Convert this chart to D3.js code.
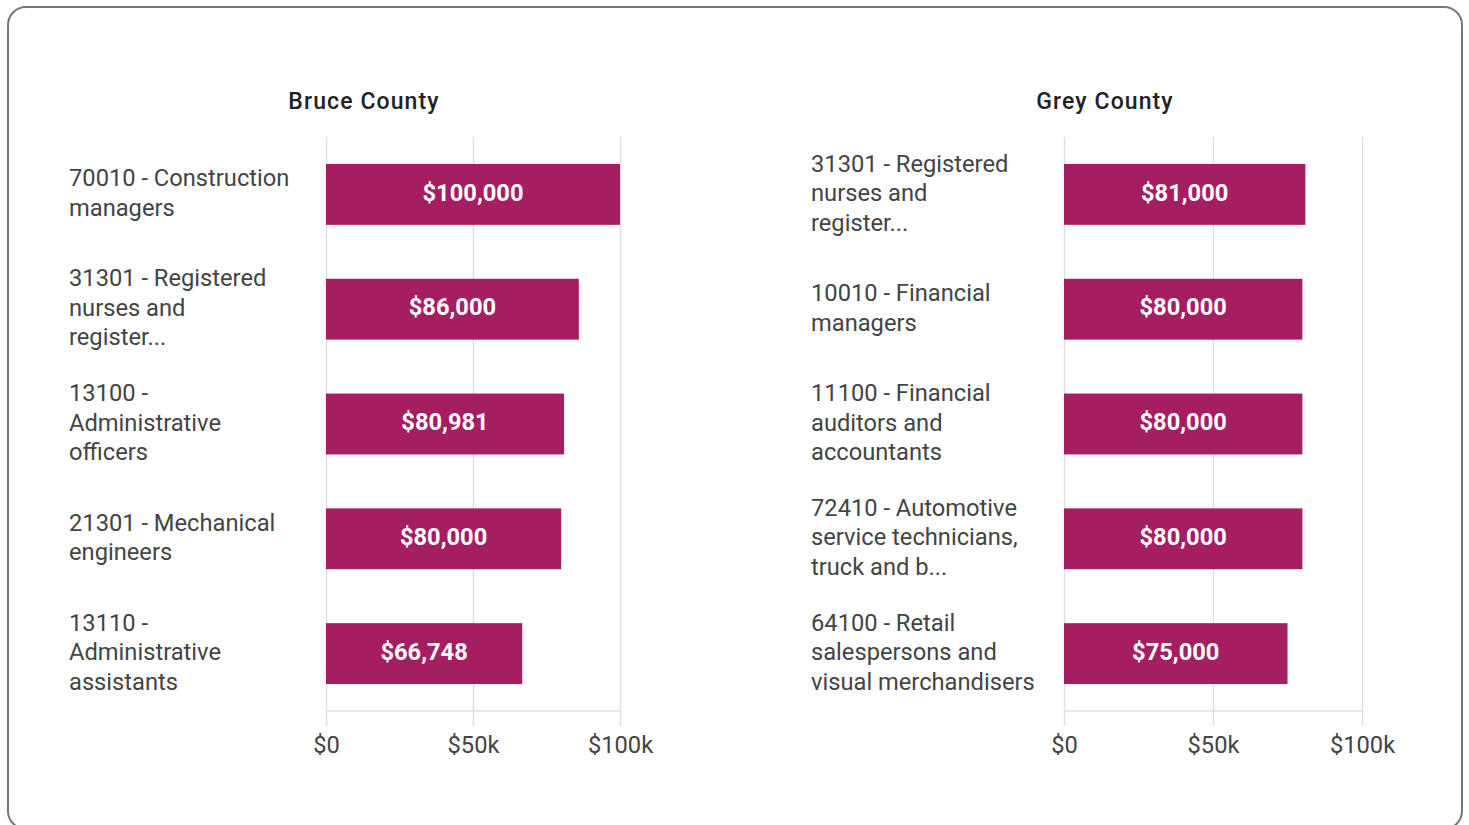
<!DOCTYPE html>
<html><head><meta charset="utf-8">
<script src="https://cdn.jsdelivr.net/npm/d3@7"></script>
<style>
html,body{margin:0;padding:0;background:#fff;}
svg{display:block;}
</style></head>
<body>
<svg id="chart" width="1469" height="825"></svg>
<script>
const bruceCategories = ["70010 - Construction|managers", "31301 - Registered|nurses and|register...", "13100 -|Administrative|officers", "21301 - Mechanical|engineers", "13110 -|Administrative|assistants"];
const bruceValues = [100000, 86000, 80981, 80000, 66748];
const greyCategories = ["31301 - Registered|nurses and|register...", "10010 - Financial|managers", "11100 - Financial|auditors and|accountants", "72410 - Automotive|service technicians,|truck and b...", "64100 - Retail|salespersons and|visual merchandisers"];
const greyValues = [81000, 80000, 80000, 80000, 75000];
const tickValues = [0, 50000, 100000];
const tickLabels = ["$0", "$50k", "$100k"];
const titles = ["Bruce County", "Grey County"];

const svg = d3.select("#chart");
const font = "Roboto, Arial, sans-serif";
const barColor = "#a51e61";
const textColor = "#444";
const fs = 23.7;

svg.append("rect").attr("x", 8).attr("y", 7).attr("width", 1454).attr("height", 822)
  .attr("rx", 18).attr("fill", "#fff").attr("stroke", "#777").attr("stroke-width", 2);

const panels = [
  {title: titles[0], cats: bruceCategories, vals: bruceValues, x0: 326, x1: 620, labelX: 69, titleX: 364},
  {title: titles[1], cats: greyCategories, vals: greyValues, x0: 1064, x1: 1362, labelX: 811, titleX: 1105}
];
const plotTop = 137, plotBottom = 711;
const fmt = d3.format("$,");

panels.forEach(p => {
  const g = svg.append("g");
  const x = d3.scaleLinear().domain([0, 100000]).range([p.x0, p.x1]);
  const y = d3.scaleBand().domain(p.cats).range([plotTop, plotBottom]).paddingInner(0.47).paddingOuter(0.235);

  g.append("text").attr("x", p.titleX).attr("y", 101).attr("dy", "0.35em")
    .attr("text-anchor", "middle").attr("font-family", font).attr("font-size", 23)
    .attr("font-weight", 500).attr("letter-spacing", "1.1px").attr("fill", "#222").text(p.title);

  g.selectAll(".grid").data(tickValues).join("line")
    .attr("x1", d => Math.round(x(d)) + 0.5).attr("x2", d => Math.round(x(d)) + 0.5)
    .attr("y1", plotTop).attr("y2", plotBottom + 15)
    .attr("stroke", "#e0e0e0").attr("stroke-width", 1.5);
  g.append("line").attr("x1", p.x0).attr("x2", p.x1).attr("y1", plotBottom).attr("y2", plotBottom)
    .attr("stroke", "#e0e0e0").attr("stroke-width", 1.5);

  const axis = d3.axisBottom(x).tickValues(tickValues).tickFormat((d, i) => tickLabels[i]).tickSize(0).tickPadding(25.5);
  const ag = g.append("g").attr("transform", `translate(0,${plotBottom})`).call(axis);
  ag.select(".domain").remove();
  ag.selectAll("text").attr("font-family", font).attr("font-size", fs).attr("fill", textColor);

  g.selectAll(".bar").data(p.vals).join("rect")
    .attr("x", x(0)).attr("y", (d, i) => y(p.cats[i]))
    .attr("width", d => x(d) - x(0)).attr("height", y.bandwidth())
    .attr("fill", barColor);

  g.selectAll(".val").data(p.vals).join("text")
    .attr("x", d => (x(0) + x(d)) / 2)
    .attr("y", (d, i) => y(p.cats[i]) + y.bandwidth() / 2)
    .attr("dy", "0.26em").attr("text-anchor", "middle")
    .attr("font-family", font).attr("font-size", fs).attr("font-weight", 700)
    .attr("fill", "#fff").text(d => fmt(d));

  p.cats.forEach((c, i) => {
    const lines = c.split("|");
    const cy = y(c) + y.bandwidth() / 2;
    const lh = 29.5;
    const t = g.append("text").attr("font-family", font).attr("font-size", fs).attr("fill", textColor);
    lines.forEach((l, j) => {
      t.append("tspan").attr("x", p.labelX)
        .attr("y", cy + (j - (lines.length - 1) / 2) * lh)
        .attr("dy", "0.28em").text(l);
    });
  });
});
</script>
</body></html>
